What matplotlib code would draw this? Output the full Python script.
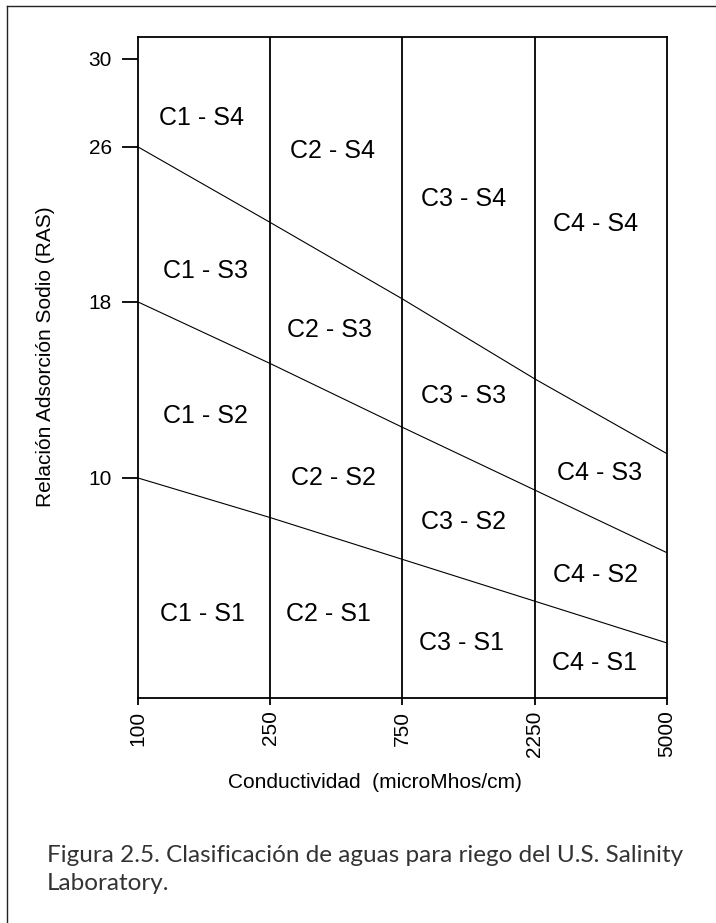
import numpy as np
import matplotlib
matplotlib.use('Agg')
import matplotlib.pyplot as plt
from matplotlib.lines import Line2D

# ejes
cond_labels = ['100', '250', '750', '2250', '5000']
ras_ticks = [10, 18, 26, 30]

# el eje RAS del original no es lineal: valor -> posicion (px desde abajo)
ras_ref = [0, 10, 18, 26, 30, 32]
ras_px = [0, 220, 396, 551, 639, 683]

# limites entre clases S (valor RAS en cada conductividad)
lim_s3_s4 = [26, 22.1, 18.15, 14.5, 11.1]
lim_s2_s3 = [18, 15.2, 12.3, 9.45, 6.6]
lim_s1_s2 = [10, 8.2, 6.3, 4.4, 2.5]

# etiquetas de clase: texto, columna, RAS
clases = ['C1 - S4', 'C2 - S4', 'C3 - S4', 'C4 - S4',
          'C1 - S3', 'C2 - S3', 'C3 - S3', 'C4 - S3',
          'C1 - S2', 'C2 - S2', 'C3 - S2', 'C4 - S2',
          'C1 - S1', 'C2 - S1', 'C3 - S1', 'C4 - S1']
clase_col = [0.48, 1.47, 2.46, 3.46,
             0.51, 1.45, 2.46, 3.49,
             0.51, 1.48, 2.46, 3.46,
             0.49, 1.44, 2.45, 3.45]
clase_ras = [27.3, 25.8, 23.3, 22.0,
             19.6, 16.7, 13.7, 10.2,
             12.8, 10.0, 8.0, 5.6,
             3.8, 3.8, 2.5, 1.6]

W, H = 716, 923
fig = plt.figure(figsize=(W / 100, H / 100), dpi=100)
ax = fig.add_axes([137.7 / W, 225 / H, (667 - 137.7) / W, (698 - 36.7) / H])

fwd = lambda v: np.interp(v, ras_ref, ras_px)
inv = lambda p: np.interp(p, ras_px, ras_ref)
ax.set_yscale('function', functions=(fwd, inv))
ax.set_ylim(0, 31.0)
ax.set_xlim(0, 4)

x = np.arange(len(cond_labels))
for lim in (lim_s3_s4, lim_s2_s3, lim_s1_s2):
	ax.plot(x, lim, color='black', lw=0.8)
for xv in x[1:-1]:
	ax.axvline(xv, color='black', lw=1.3)

for t, cx, cy in zip(clases, clase_col, clase_ras):
	ax.text(cx, cy, t, ha='center', va='center', fontsize=18,
			family='Liberation Sans')

for s in ax.spines.values():
	s.set_linewidth(1.3)

ax.set_yticks(ras_ticks)
ax.set_yticklabels([str(v) for v in ras_ticks], family='Liberation Sans', fontsize=15)
ax.yaxis.set_minor_locator(matplotlib.ticker.NullLocator())
ax.tick_params(axis='y', length=11.5, width=1.3, pad=7)
ax.set_xticks(x)
ax.set_xticklabels(cond_labels, rotation=90, family='Liberation Sans', fontsize=15)
ax.tick_params(axis='x', length=5, width=1.3, pad=4)

fig.text(46 / W, 1 - 357 / H, 'Relación Adsorción Sodio (RAS)', rotation=90,
		 ha='center', va='center', fontsize=15, family='Liberation Sans')
fig.text(228 / W, 1 - 782 / H, 'Conductividad  (microMhos/cm)',
		 ha='left', va='center', fontsize=15, family='Liberation Sans')

fig.text(47 / W, 1 - 855 / H, 'Figura 2.5. Clasificación de aguas para riego del U.S. Salinity',
		 ha='left', va='center', fontsize=17.5, family='Lato', color='#333333')
fig.text(47 / W, 1 - 884 / H, 'Laboratory.',
		 ha='left', va='center', fontsize=17.5, family='Lato', color='#333333')

# marco exterior (solo izquierda y arriba)
fig.add_artist(Line2D([7.5 / W, 7.5 / W], [0, 1 - 6 / H], transform=fig.transFigure, color='#222222', lw=1))
fig.add_artist(Line2D([7.5 / W, 1], [1 - 6 / H, 1 - 6 / H], transform=fig.transFigure, color='#222222', lw=1))

fig.savefig('out.png', dpi=100)
